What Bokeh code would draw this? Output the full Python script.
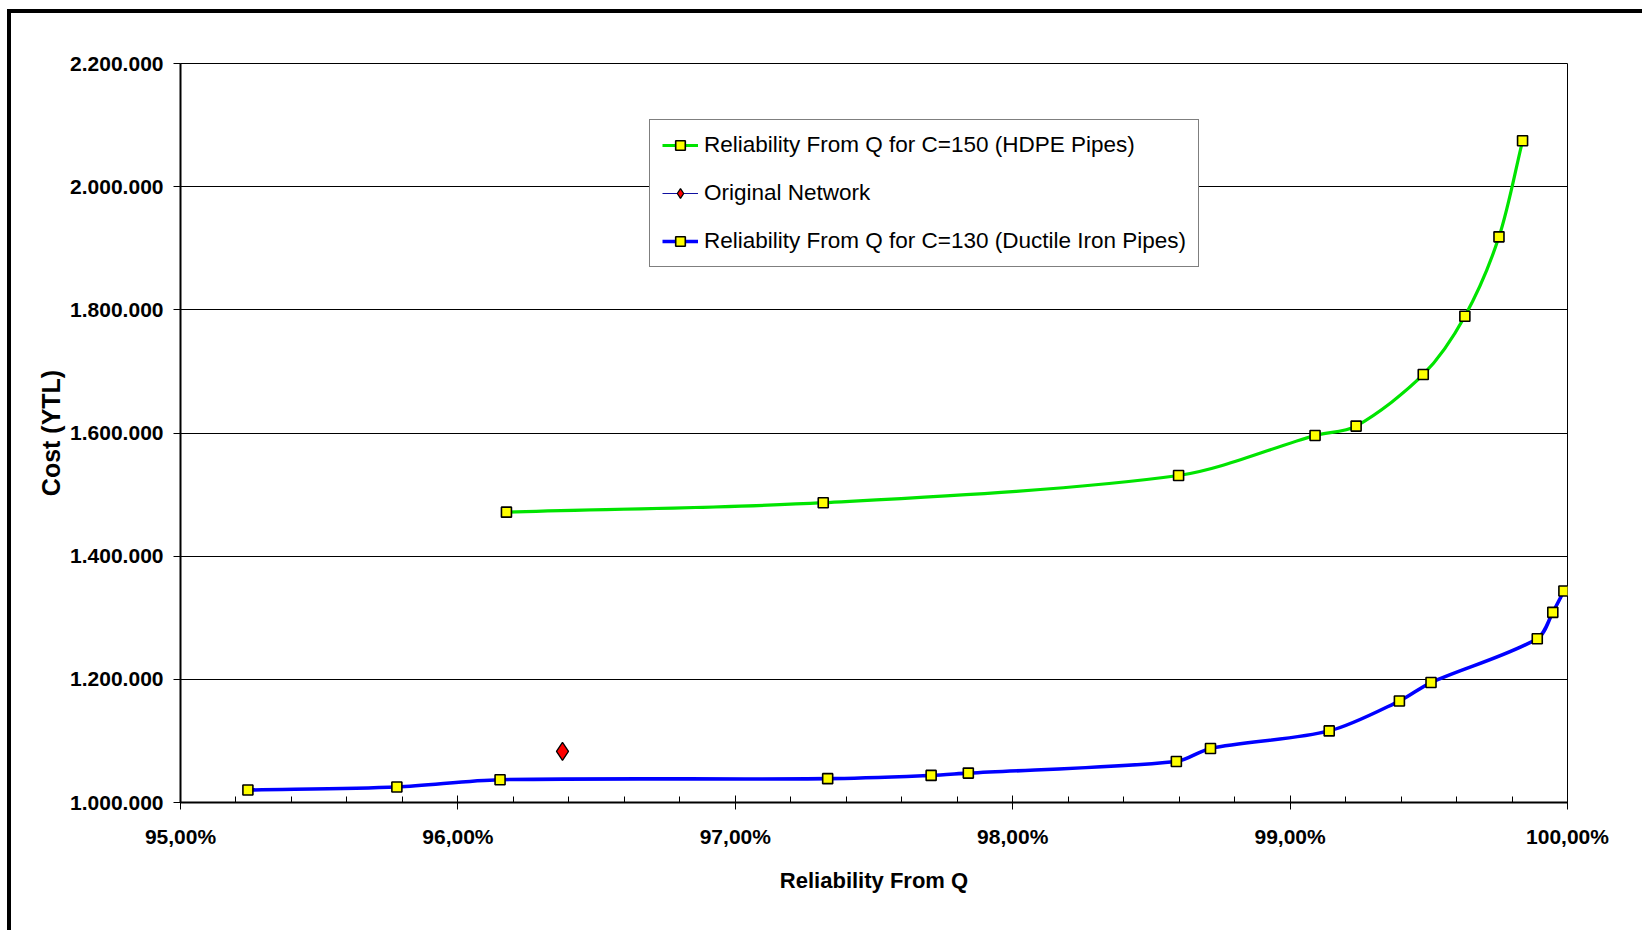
import numpy as np
from bokeh.plotting import figure
from bokeh.models import FixedTicker, Legend, LegendItem, ColumnDataSource
from bokeh.embed import file_html
from bokeh.resources import INLINE

# ---------------- data ----------------
hdpe_reliability = [96.175, 97.317, 98.598, 99.090, 99.238, 99.480, 99.630, 99.753, 99.838]
hdpe_cost = [1471500, 1486800, 1531000, 1596000, 1611200, 1695000, 1789700, 1918500, 2074500]

ductile_reliability = [95.243, 95.780, 96.152, 97.333, 97.706, 97.840, 98.590, 98.713,
                       99.141, 99.394, 99.508, 99.891, 99.947, 99.987]
ductile_cost = [1020200, 1025200, 1037000, 1038700, 1044000, 1047700, 1066500, 1087800,
                1116300, 1164800, 1194800, 1266000, 1308800, 1343400]

original_reliability = [96.377]
original_cost = [1083000]

x_ticks = [95, 96, 97, 98, 99, 100]
x_tick_labels = ["95,00%", "96,00%", "97,00%", "98,00%", "99,00%", "100,00%"]
y_ticks = [1000000, 1200000, 1400000, 1600000, 1800000, 2000000, 2200000]
y_tick_labels = ["1.000.000", "1.200.000", "1.400.000", "1.600.000", "1.800.000", "2.000.000", "2.200.000"]

label_hdpe = "Reliability From Q for C=150 (HDPE Pipes)"
label_orig = "Original Network"
label_duct = "Reliability From Q for C=130 (Ductile Iron Pipes)"
x_title = "Reliability From Q"
y_title = "Cost (YTL)"

# ---------------- figure ----------------
FW, FH = 1387, 739
X0, X1 = 95, 100
Y0, Y1 = 1000000, 2200000
FONT = "Liberation Sans"

p = figure(frame_width=FW, frame_height=FH, x_range=(X0, X1), y_range=(Y0, Y1),
           output_backend="svg", toolbar_location=None,
           min_border_left=169, min_border_right=75, min_border_top=50, min_border_bottom=128,
           background_fill_color="white", border_fill_color="white")
p.margin = (9, 0, 0, 7)
p.styles = {"border-top": "4px solid black", "border-left": "4px solid black"}

p.outline_line_color = "black"
p.outline_line_width = 1

# ticks / axes
minor = [float(v) for v in np.round(np.arange(X0, X1 + 0.001, 0.2), 1)]
p.xaxis.ticker = FixedTicker(ticks=x_ticks, minor_ticks=minor)
p.xaxis.major_label_overrides = dict(zip(x_ticks, x_tick_labels))
p.yaxis.ticker = FixedTicker(ticks=y_ticks)
p.yaxis.major_label_overrides = dict(zip(y_ticks, y_tick_labels))

for ax in (p.xaxis[0], p.yaxis[0]):
    ax.axis_line_color = "black"
    ax.axis_line_width = 2
    ax.major_tick_line_color = "black"
    ax.major_tick_line_width = 1
    ax.minor_tick_line_color = "black"
    ax.major_label_text_font = FONT
    ax.major_label_text_font_style = "bold"
    ax.major_label_text_font_size = "21px"
    ax.major_label_text_color = "black"
    ax.axis_label_text_font = FONT
    ax.axis_label_text_font_style = "bold"
    ax.axis_label_text_color = "black"

p.xaxis.major_tick_in = 7
p.xaxis.major_tick_out = 7
p.xaxis.minor_tick_in = 6
p.xaxis.minor_tick_out = 0
p.xaxis.major_label_standoff = 15
p.xaxis.axis_label = x_title
p.xaxis.axis_label_text_font_size = "22px"
p.xaxis.axis_label_standoff = 17

p.yaxis.major_tick_in = 0
p.yaxis.major_tick_out = 7
p.yaxis.minor_tick_in = 0
p.yaxis.minor_tick_out = 0
p.yaxis.major_label_standoff = 10
p.yaxis.axis_label = y_title
p.yaxis.axis_label_text_font_size = "25px"
p.yaxis.axis_label_standoff = 2

p.xgrid.visible = False
p.ygrid.ticker = FixedTicker(ticks=y_ticks)
p.ygrid.grid_line_color = "black"
p.ygrid.grid_line_width = 1

# ---------------- smoothed curves (control points derived from data) ----------------
kx = FW / (X1 - X0)
ky = FH / (Y1 - Y0)


def smooth(xs, ys, k=0.3):
    x = np.asarray(xs, float) * kx
    y = np.asarray(ys, float) * ky
    n = len(x)
    tx = np.empty(n)
    ty = np.empty(n)
    tx[1:-1] = x[2:] - x[:-2]
    ty[1:-1] = y[2:] - y[:-2]
    tx[0], ty[0] = x[1] - x[0], y[1] - y[0]
    tx[-1], ty[-1] = x[-1] - x[-2], y[-1] - y[-2]
    nrm = np.hypot(tx, ty)
    tx, ty = tx / nrm, ty / nrm
    seg = np.hypot(np.diff(x), np.diff(y))
    cx0 = x[:-1] + tx[:-1] * seg * k
    cy0 = y[:-1] + ty[:-1] * seg * k
    cx1 = x[1:] - tx[1:] * seg * k
    cy1 = y[1:] - ty[1:] * seg * k
    return dict(x0=x[:-1] / kx, y0=y[:-1] / ky, x1=x[1:] / kx, y1=y[1:] / ky,
                cx0=cx0 / kx, cy0=cy0 / ky, cx1=cx1 / kx, cy1=cy1 / ky)


GREEN = "#00E400"
BLUE = "#0000FF"

hdpe_curve = ColumnDataSource(smooth(hdpe_reliability, hdpe_cost))
duct_curve = ColumnDataSource(smooth(ductile_reliability, ductile_cost))

p.bezier(x0="x0", y0="y0", x1="x1", y1="y1", cx0="cx0", cy0="cy0", cx1="cx1", cy1="cy1",
         source=hdpe_curve, line_color=GREEN, line_width=3.2)
p.bezier(x0="x0", y0="y0", x1="x1", y1="y1", cx0="cx0", cy0="cy0", cx1="cx1", cy1="cy1",
         source=duct_curve, line_color=BLUE, line_width=3.6)

# single-point line renderers: invisible in the plot, they give the legend its line sample
hdpe_leg_line = p.line(x=hdpe_reliability[:1], y=hdpe_cost[:1], line_color=GREEN, line_width=3.2)
duct_leg_line = p.line(x=ductile_reliability[:1], y=ductile_cost[:1], line_color=BLUE, line_width=3.6)
orig_line = p.line(x=original_reliability, y=original_cost, line_color="#1010A0", line_width=1.2)

hdpe_pts = p.scatter(hdpe_reliability, hdpe_cost, marker="square", size=10,
                     fill_color="#FFFF00", line_color="black", line_width=1.6)
duct_pts = p.scatter(ductile_reliability, ductile_cost, marker="square", size=10,
                     fill_color="#FFFF00", line_color="black", line_width=1.6)
orig_pts = p.scatter(original_reliability, original_cost, marker="diamond", size=18,
                     fill_color="#FF0000", line_color="black", line_width=1.3)

legend = Legend(items=[
    LegendItem(label=label_hdpe, renderers=[hdpe_leg_line, hdpe_pts]),
    LegendItem(label=label_orig, renderers=[orig_line, orig_pts]),
    LegendItem(label=label_duct, renderers=[duct_leg_line, duct_pts]),
])
legend.location = (469, 535)
legend.orientation = "vertical"
legend.padding = 12
legend.spacing = 22
legend.margin = 0
legend.glyph_width = 36
legend.glyph_height = 24
legend.label_height = 24
legend.label_standoff = 6
legend.label_text_font = FONT
legend.label_text_font_size = "22.5px"
legend.label_text_color = "black"
legend.border_line_color = "black"
legend.border_line_width = 1
legend.background_fill_color = "white"
legend.background_fill_alpha = 1
p.add_layout(legend, "center")

open("out.html", "w").write(file_html(p, INLINE))
